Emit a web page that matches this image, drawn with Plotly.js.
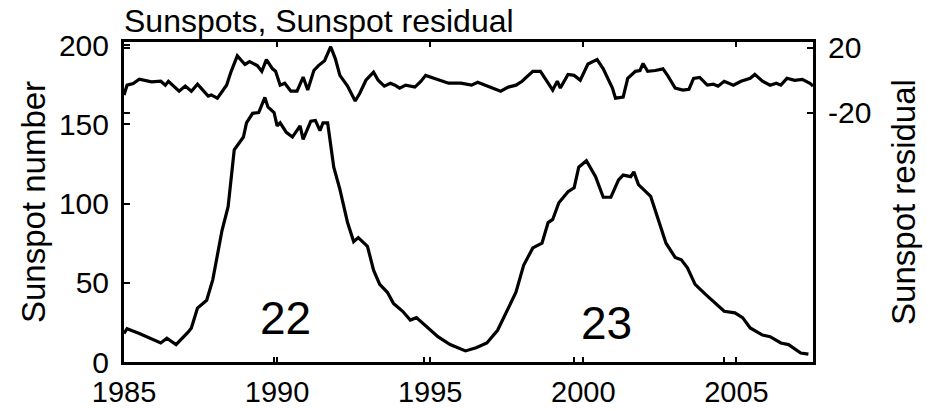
<!DOCTYPE html>
<html><head><meta charset="utf-8">
<script src="https://cdn.plot.ly/plotly-3.0.1.min.js"></script>
<style>html,body{margin:0;padding:0;background:#fff}#c{width:927px;height:410px}</style>
</head><body><div id="c"></div>
<script>
const sunYears = [1985.0,1985.1,1985.5,1985.9,1986.2,1986.4,1986.7,1987.1,1987.2,1987.4,1987.7,1987.9,1988.0,1988.2,1988.4,1988.5,1988.6,1988.9,1989.0,1989.2,1989.4,1989.6,1989.7,1989.9,1990.0,1990.1,1990.3,1990.5,1990.65,1990.75,1990.85,1991.1,1991.25,1991.4,1991.5,1991.65,1991.85,1992.05,1992.3,1992.5,1992.65,1992.95,1993.15,1993.35,1993.6,1993.8,1994.1,1994.35,1994.55,1994.9,1995.25,1995.65,1996.15,1996.5,1996.85,1997.2,1997.45,1997.8,1998.05,1998.35,1998.65,1998.85,1999.0,1999.2,1999.5,1999.7,1999.85,2000.1,2000.4,2000.65,2000.9,2001.15,2001.3,2001.55,2001.65,2001.8,2002.2,2002.45,2002.7,2003.0,2003.2,2003.4,2003.65,2004.0,2004.25,2004.6,2004.95,2005.2,2005.45,2005.85,2006.1,2006.45,2006.7,2007.1,2007.35];
const sunspotNumber = [18,21,18,14.5,12,15,11,19,21.5,34,39,52,63,83,98,115,134,142,151,157,157.5,167,161,157.5,149,151,145,142,146,149,140.5,152,152.5,146,151,151,123,109,88,76,78.5,73,58,49,44,37,32,26.5,28,22,16,11,7,9,12,20,30,44,61,72,75,88,90,100.5,107.5,110,123,127,117,104,104,115,118,117,120,112,104.5,90,75,66,64.5,59.5,49,42.5,38,32,31,28,21.5,17,16,12,11,5.7,5];

const resYears = [1985.0,1985.1,1985.3,1985.5,1985.9,1986.2,1986.35,1986.45,1986.8,1987.0,1987.2,1987.4,1987.75,1987.85,1988.05,1988.35,1988.5,1988.7,1988.95,1989.1,1989.35,1989.5,1989.65,1989.85,1989.95,1990.1,1990.25,1990.45,1990.65,1990.85,1991.0,1991.2,1991.35,1991.45,1991.55,1991.75,1991.9,1992.05,1992.3,1992.55,1992.7,1992.9,1993.15,1993.3,1993.5,1993.7,1993.85,1994.0,1994.2,1994.5,1994.7,1994.85,1995.05,1995.3,1995.6,1996.0,1996.35,1996.55,1996.9,1997.3,1997.55,1997.8,1998.0,1998.15,1998.35,1998.6,1998.8,1999.0,1999.15,1999.25,1999.5,1999.7,1999.9,2000.05,2000.15,2000.45,2000.65,2000.95,2001.05,2001.3,2001.45,2001.7,2001.85,2001.95,2002.1,2002.35,2002.6,2002.75,2003.0,2003.25,2003.45,2003.6,2003.8,2004.05,2004.25,2004.4,2004.6,2004.9,2005.15,2005.45,2005.6,2005.85,2006.1,2006.3,2006.45,2006.65,2006.9,2007.15,2007.4,2007.5];
const sunspotResidual = [-9,-3,-2,0.6,-1,-0.6,-3,-0.6,-6.7,-3.6,-6.7,-2.4,-9.7,-9,-11,-3,5.5,15,9.7,11.5,9,5.5,12.7,7,5.5,-3,-1.8,-6.7,-6.7,2,-6,6,9,10.3,12,20.6,13.3,3,-3.6,-12.7,-8,0,5,0,-3.6,-1.8,-3,-4.8,-3,-4.2,-0.6,3,1.8,0,-1.8,-1.8,-3,-1.2,-3.6,-6.7,-4.2,-3,-0.6,1.8,5.5,5.5,0,-6,-0.6,-4.8,3.6,3,0,5.5,10,12.7,7,-4.8,-11,-10.3,1.2,5.5,6,10.3,5.5,6,7,3,-4.8,-6,-5.5,1.2,1.8,-3,-2.4,-3.6,-0.6,-3,-0.6,1.2,3.6,-0.6,-3,-1.8,-3,1.2,0,0.6,-1.8,-3.6];

const xTicks = [1985,1990,1995,2000,2005];
const xTickLabels = ['1985','1990','1995','2000','2005'];
const leftTicks = [0,50,100,150,200];
const rightTicks = [-20,20];
const rightTickLabels = ['-20','20'];
const cycleLabels = ['22','23'];
const cycleX = [1990.26,2000.75];
const cycleY = [27.7,24.5];

const FONT = 'Liberation Sans, Arial, sans-serif';
const traces = [
  {x: sunYears, y: sunspotNumber, type:'scatter', mode:'lines', line:{color:'#000', width:3.2}, xaxis:'x', yaxis:'y', hoverinfo:'skip'},
  {x: resYears, y: sunspotResidual, type:'scatter', mode:'lines', line:{color:'#000', width:3.2}, xaxis:'x', yaxis:'y2', hoverinfo:'skip'},
  {x: [], y: [], type:'scatter', mode:'lines', xaxis:'x2', yaxis:'y', hoverinfo:'skip'}
];
const layout = {
  width:927, height:410,
  margin:{l:124, r:114, t:42, b:48},
  paper_bgcolor:'#fff', plot_bgcolor:'#fff',
  showlegend:false,
  font:{family:FONT, color:'#000', size:30},
  title:{text:'Sunspots, Sunspot residual', font:{family:FONT, size:32, color:'#000'}, x:0, xref:'paper', xanchor:'left', y:1-21/410, yref:'container', yanchor:'middle'},
  xaxis:{range:[1985,2007.5], tickvals:xTicks, ticktext:xTickLabels, ticks:'inside', ticklen:5, tickwidth:2, tickcolor:'#000',
         showline:true, linewidth:3, linecolor:'#000', mirror:'ticks', showgrid:false, zeroline:false,
         ticklabelstandoff:2, tickfont:{size:29}},
  xaxis2:{range:[1985,2007.95], overlaying:'x', anchor:'y', side:'bottom', tickvals:xTicks.slice(1), ticks:'inside', ticklen:5, tickwidth:2, tickcolor:'#000',
         showticklabels:false, showline:false, showgrid:false, zeroline:false},
  yaxis:{range:[0,202], tickvals:leftTicks, ticks:'inside', ticklen:6, tickwidth:2, tickcolor:'#000',
         showline:true, linewidth:3, linecolor:'#000', showgrid:false, zeroline:false, ticklabelstandoff:6,
         title:{text:'Sunspot number', font:{size:33}, standoff:4}, tickfont:{size:30}},
  yaxis2:{range:[-173,23.5], overlaying:'y', side:'right', anchor:'x', tickvals:rightTicks, ticktext:rightTickLabels, ticks:'inside', ticklen:6, tickwidth:2, tickcolor:'#000',
         showline:true, linewidth:3, linecolor:'#000', mirror:'ticks', showgrid:false, zeroline:false, ticklabelstandoff:6,
         title:{text:'Sunspot residual', font:{size:33}, standoff:22}, tickfont:{size:30}},
  annotations: cycleLabels.map((t,i)=>({text:t, x:cycleX[i], y:cycleY[i], xref:'x', yref:'y', showarrow:false, font:{family:FONT, size:46, color:'#000'}, xanchor:'center', yanchor:'middle'}))
};
Plotly.newPlot('c', traces, layout, {staticPlot:true, displayModeBar:false});
</script></body></html>
